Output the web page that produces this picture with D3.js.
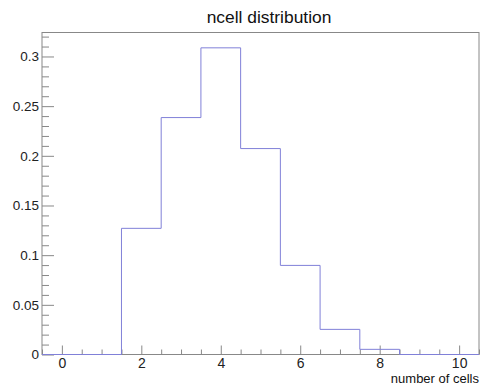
<!DOCTYPE html>
<html>
<head>
<meta charset="utf-8">
<script src="https://cdn.jsdelivr.net/npm/d3@7"></script>
<style>
  body { margin: 0; background: #fff; }
  svg { font-family: "Liberation Sans", Arial, sans-serif; }
  .axis path, .axis line { stroke: #888; }
  .axis text { fill: #222; }
</style>
</head>
<body>
<svg id="chart"></svg>
<script>
"use strict";

// bin centres (number of cells) and normalised contents
var binCenters = [0, 1, 2, 3, 4, 5, 6, 7, 8, 9, 10];
var binValues = [0, 0, 0.127, 0.2385, 0.3087, 0.2073, 0.0897, 0.0253, 0.0052, 0, 0];
var xTickLabels = [0, 2, 4, 6, 8, 10];
var yTickLabels = [0, 0.05, 0.1, 0.15, 0.2, 0.25, 0.3];

var width = 481
  , height = 385
  , frameLeft = 42
  , frameRight = 479
  , frameTop = 32.5
  , frameBottom = 354.5;

var svg = d3.select("#chart")
  .attr("width", width)
  .attr("height", height);

var x = d3.scaleLinear().domain([-0.5, 10.5]).range([frameLeft, frameRight]);
var y = d3.scaleLinear().domain([0, d3.max(binValues) * 1.05]).range([frameBottom, frameTop]);

// minor ticks
var xMinor = d3.range(-0.5, 10.51, 0.5).filter(function (v) { return v % 2 !== 0; });
var yMinor = d3.range(0, 0.3245, 0.01).filter(function (v) { return Math.round(v * 100) % 5 !== 0; });

svg.append("g")
  .attr("class", "axis")
  .attr("transform", "translate(0," + frameBottom + ")")
  .call(d3.axisBottom(x).tickValues(xMinor).tickSize(-5).tickFormat(""))
  .select(".domain").remove();

svg.append("g")
  .attr("class", "axis")
  .attr("transform", "translate(" + frameLeft + ",0)")
  .call(d3.axisLeft(y).tickValues(yMinor).tickSize(-7).tickFormat(""))
  .select(".domain").remove();

// major ticks with labels
svg.append("g")
  .attr("class", "axis")
  .attr("transform", "translate(0," + frameBottom + ")")
  .style("font-size", "14px")
  .call(d3.axisBottom(x).tickValues(xTickLabels).tickSize(-9).tickPadding(4).tickSizeOuter(0))
  .select(".domain").remove();

svg.append("g")
  .attr("class", "axis")
  .attr("transform", "translate(" + frameLeft + ",0)")
  .style("font-size", "13.5px")
  .call(d3.axisLeft(y).tickValues(yTickLabels).tickSize(-12).tickPadding(3)
    .tickFormat(function (d) { return d === 0 ? "0" : d3.format("")(d); }))
  .select(".domain").remove();

svg.selectAll(".axis text").style("font-size", null);

// frame
svg.append("rect")
  .attr("x", frameLeft)
  .attr("y", frameTop)
  .attr("width", frameRight - frameLeft)
  .attr("height", frameBottom - frameTop)
  .attr("fill", "none")
  .attr("stroke", "#888")
  .attr("stroke-width", 1);

// histogram outline
var pts = [[x(-0.5), y(0)]];
binCenters.forEach(function (c, i) {
  pts.push([x(c - 0.5), y(binValues[i])]);
  pts.push([x(c + 0.5), y(binValues[i])]);
});
pts.push([x(10.5), y(0)]);

svg.append("path")
  .attr("d", d3.line()(pts))
  .attr("fill", "none")
  .attr("stroke", "#8080d8")
  .attr("stroke-width", 1);

// title and axis label
svg.append("text")
  .attr("x", 269)
  .attr("y", 23.3)
  .attr("text-anchor", "middle")
  .style("font-size", "17.4px")
  .style("fill", "#111")
  .text("ncell distribution");

svg.append("text")
  .attr("x", frameRight)
  .attr("y", 383)
  .attr("text-anchor", "end")
  .style("font-size", "13px")
  .style("fill", "#111")
  .text("number of cells");
</script>
</body>
</html>
